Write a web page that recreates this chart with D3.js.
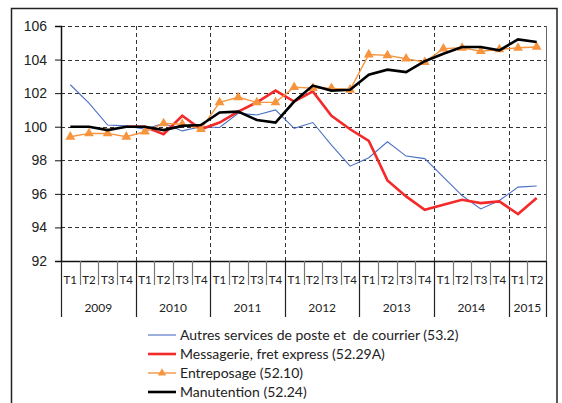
<!DOCTYPE html>
<html>
<head>
<meta charset="utf-8">
<script src="https://cdn.jsdelivr.net/npm/d3@7"></script>
<style>
  body { margin: 0; background: #fff; }
  svg { display: block; font-family: Lato, "Open Sans", sans-serif; }
</style>
</head>
<body>
<div id="chart"></div>
<script>
var years = ["2009", "2010", "2011", "2012", "2013", "2014", "2015"];
var quarters = [
  "T1", "T2", "T3", "T4", "T1", "T2", "T3", "T4", "T1", "T2", "T3", "T4",
  "T1", "T2", "T3", "T4", "T1", "T2", "T3", "T4", "T1", "T2", "T3", "T4",
  "T1", "T2"
];
var yTicks = [92, 94, 96, 98, 100, 102, 104, 106];

var autres = [102.5, 101.4, 100.1, 100.05, 99.85, 100.2, 99.75, 100.0, 99.95, 100.8, 100.7, 101.0,
  99.9, 100.25, 98.9, 97.65, 98.15, 99.1, 98.25, 98.1, 97.0, 95.9, 95.1, 95.6, 96.4, 96.47];
var messagerie = [null, null, null, 100.0, 100.0, 99.55, 100.65, 99.85, 100.25, 100.9, 101.45, 102.15,
  101.5, 102.1, 100.65, 99.85, 99.15, 96.8, 95.85, 95.05, 95.35, 95.65, 95.45, 95.55, 94.8, 95.75];
var entreposage = [99.4, 99.6, 99.6, 99.4, 99.7, 100.2, 100.15, 99.85, 101.45, 101.75, 101.45, 101.45,
  102.35, 102.3, 102.3, 102.2, 104.3, 104.25, 104.05, 103.85, 104.65, 104.7, 104.5, 104.6, 104.7, 104.75];
var manutention = [100.0, 100.0, 99.8, 100.0, 100.0, 99.8, 100.05, 100.1, 100.85, 100.9, 100.4, 100.25,
  101.5, 102.45, 102.15, 102.2, 103.1, 103.4, 103.25, 103.9, 104.35, 104.75, 104.75, 104.55, 105.2, 105.05];

var legendLabels = [
  "Autres services de poste et \u00a0de courrier (53.2)",
  "Messagerie, fret express (52.29A)",
  "Entreposage (52.10)",
  "Manutention (52.24)"
];

var svgWidth = 562;
var svgHeight = 403;
var plot = { left: 61, right: 546, top: 26, bottom: 261 };

var svg = d3.select("#chart").append("svg")
  .attr("width", svgWidth)
  .attr("height", svgHeight);

// outer frame (no bottom edge visible)
svg.append("path")
  .attr("d", "M11.5,404 V8.5 H557 V404")
  .attr("fill", "none")
  .attr("stroke", "#222")
  .attr("stroke-width", 1.5);

var idx = d3.range(quarters.length);

var x = d3.scaleBand()
  .domain(idx)
  .range([plot.left, plot.right])
  .padding(0);

var y = d3.scaleLinear()
  .domain([92, 106])
  .range([plot.bottom, plot.top]);

var cx = function (i) { return x(i) + x.bandwidth() / 2; };

// horizontal grid
svg.append("g").selectAll("line")
  .data(yTicks.filter(function (d) { return d > 92; }))
  .enter().append("line")
  .attr("x1", plot.left).attr("x2", plot.right)
  .attr("y1", function (d) { return Math.round(y(d)) + 0.5; })
  .attr("y2", function (d) { return Math.round(y(d)) + 0.5; })
  .attr("stroke", "#333")
  .attr("stroke-dasharray", "4,3");

// vertical grid at year boundaries
var yearStarts = [4, 8, 12, 16, 20, 24];
svg.append("g").selectAll("line")
  .data(yearStarts)
  .enter().append("line")
  .attr("x1", function (d) { return Math.round(x(d)) + 0.5; })
  .attr("x2", function (d) { return Math.round(x(d)) + 0.5; })
  .attr("y1", plot.top).attr("y2", plot.bottom)
  .attr("stroke", "#333")
  .attr("stroke-dasharray", "4,3");

// right plot edge
svg.append("line")
  .attr("x1", plot.right + 0.5).attr("x2", plot.right + 0.5)
  .attr("y1", plot.top).attr("y2", plot.bottom)
  .attr("stroke", "#666");

// y axis
var yAxis = svg.append("g")
  .attr("transform", "translate(" + plot.left + ",0)")
  .call(d3.axisLeft(y).tickValues(yTicks).tickSize(6).tickPadding(8).tickFormat(d3.format("d")));
yAxis.select(".domain").attr("stroke", "#111").attr("stroke-width", 1.5);
yAxis.selectAll(".tick line").attr("stroke", "#111");
yAxis.selectAll("text").style("font-size", "14px").attr("fill", "#222");

// x axis base line
svg.append("line")
  .attr("x1", plot.left).attr("x2", plot.right)
  .attr("y1", plot.bottom + 0.5).attr("y2", plot.bottom + 0.5)
  .attr("stroke", "#111")
  .attr("stroke-width", 1.5);

// quarter separators
svg.append("g").selectAll("line")
  .data(d3.range(quarters.length + 1))
  .enter().append("line")
  .attr("x1", function (d) { return Math.round(d < quarters.length ? x(d) : plot.right) + 0.5; })
  .attr("x2", function (d) { return Math.round(d < quarters.length ? x(d) : plot.right) + 0.5; })
  .attr("y1", plot.bottom)
  .attr("y2", function (d) { return (d % 4 === 0 || d === quarters.length) ? 317 : 285; })
  .attr("stroke", function (d) { return (d % 4 === 0 || d === quarters.length) ? "#222" : "#777"; })
  .attr("stroke-width", 1.2);

// quarter labels
svg.append("g").selectAll("text")
  .data(quarters)
  .enter().append("text")
  .attr("x", function (d, i) { return cx(i); })
  .attr("y", 284)
  .attr("text-anchor", "middle")
  .style("font-size", "11.5px")
  .attr("fill", "#222")
  .text(function (d) { return d; });

// year labels
svg.append("g").selectAll("text")
  .data(years)
  .enter().append("text")
  .attr("x", function (d, i) {
    var a = x(i * 4);
    var b = i * 4 + 4 < quarters.length ? x(i * 4 + 4) : plot.right;
    return (a + b) / 2;
  })
  .attr("y", 312)
  .attr("text-anchor", "middle")
  .style("font-size", "12px")
  .attr("fill", "#222")
  .text(function (d) { return d; });

// series
var series = [
  { name: legendLabels[0], values: autres, color: "#4a6fc4", width: 1.1, marker: false },
  { name: legendLabels[1], values: messagerie, color: "#f42a2a", width: 2.6, marker: false },
  { name: legendLabels[2], values: entreposage, color: "#f7953f", width: 1.4, marker: true },
  { name: legendLabels[3], values: manutention, color: "#000", width: 2.6, marker: false }
];

var line = d3.line()
  .defined(function (d) { return d !== null; })
  .x(function (d, i) { return cx(i); })
  .y(function (d) { return y(d); });

series.forEach(function (s) {
  svg.append("path")
    .datum(s.values)
    .attr("fill", "none")
    .attr("stroke", s.color)
    .attr("stroke-width", s.width)
    .attr("stroke-linejoin", "miter")
    .attr("d", line);
  if (s.marker) {
    svg.append("g").selectAll("path")
      .data(s.values)
      .enter().append("path")
      .attr("transform", function (d, i) { return "translate(" + cx(i) + "," + y(d) + ")"; })
      .attr("d", d3.symbol().type(d3.symbolTriangle).size(42))
      .attr("fill", s.color);
  }
});

// legend
var legend = svg.append("g");
var legendY = [335, 354, 373, 392];
series.forEach(function (s, i) {
  var g = legend.append("g").attr("transform", "translate(0," + legendY[i] + ")");
  g.append("line")
    .attr("x1", 148).attr("x2", 176)
    .attr("y1", 0).attr("y2", 0)
    .attr("stroke", s.color)
    .attr("stroke-width", s.width);
  if (s.marker) {
    g.append("path")
      .attr("transform", "translate(162,0)")
      .attr("d", d3.symbol().type(d3.symbolTriangle).size(30))
      .attr("fill", s.color);
  }
  g.append("text")
    .attr("x", 180)
    .attr("y", 5)
    .style("font-size", "14px")
    .attr("fill", "#222")
    .text(s.name);
});
</script>
</body>
</html>
